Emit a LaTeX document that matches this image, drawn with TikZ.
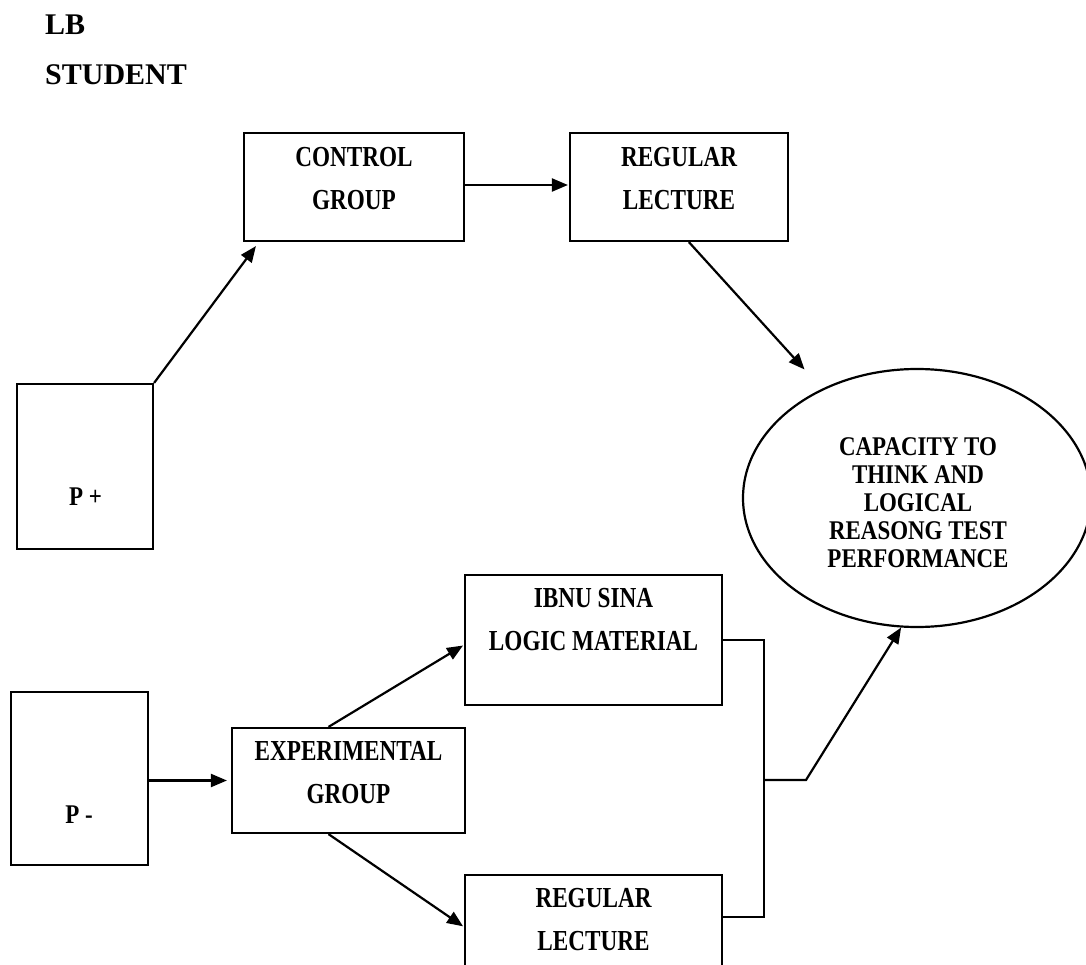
\documentclass[tikz,border=0pt]{standalone}
\usepackage{fontspec}
\setmainfont{Liberation Serif}
\newfontfamily\condfont[FakeStretch=0.8]{Liberation Serif}
\newfontfamily\econdfont[FakeStretch=0.85]{Liberation Serif}
\usetikzlibrary{shapes.geometric,arrows.meta,calc}
\begin{document}
\begin{tikzpicture}[x=1pt,y=-1pt,
  box/.style={draw, rectangle, line width=2.2pt, inner sep=0pt},
  btext/.style={font=\condfont\bfseries\fontsize{29}{43}\selectfont, align=center, inner sep=0pt},
  etext/.style={font=\econdfont\bfseries\fontsize{27}{28}\selectfont, align=center, inner sep=0pt},
  ptext/.style={font=\econdfont\bfseries\fontsize{27}{30}\selectfont, inner sep=0pt},
  title/.style={font=\bfseries\fontsize{30}{36}\selectfont, inner sep=0pt, anchor=base west},
  conn/.style={line width=2.2pt},
  arr/.style={line width=2.2pt, -{Triangle[length=16pt,width=13pt]}}]
\useasboundingbox (0,0) rectangle (1086,965);
\begin{scope}
\clip (0,0) rectangle (1086,965);

% titles
\node[title] (lb) at (45,35) {LB};
\node[title] (student) at (45,85) {STUDENT};

% boxes
\node[box, minimum width=220, minimum height=108] (ctrl) at (354,187) {};
\node[btext] (ctrlt) at (354,178.5) {CONTROL\\GROUP};
\node[box, minimum width=218, minimum height=108] (reg1) at (679,187) {};
\node[btext] (reg1t) at (679,178.5) {REGULAR\\LECTURE};

\node[box, minimum width=136, minimum height=165] (pplus) at (85,466.5) {};
\node[ptext] (pplust) at (85.5,497) {P +};
\node[box, minimum width=137, minimum height=173] (pminus) at (79.5,778.5) {};
\node[ptext] (pminust) at (79,815) {P -};

\node[box, minimum width=233, minimum height=105] (exp) at (348.5,780.5) {};
\node[btext] (expt) at (348.5,773) {EXPERIMENTAL\\GROUP};

\node[box, minimum width=257, minimum height=130] (ibnu) at (593.5,640) {};
\node[btext] (ibnut) at (593.5,619.5) {IBNU SINA\\LOGIC MATERIAL};

\node[box, minimum width=257, minimum height=130] (reg2) at (593.5,940) {};
\node[btext] (reg2t) at (593.5,920) {REGULAR\\LECTURE};

% ellipse
\node[draw, ellipse, line width=2.2pt, minimum width=348, minimum height=258, inner sep=0pt] (cap) at (917,498) {};
\node[etext] (capt) at (918,502.5) {CAPACITY TO\\THINK AND\\LOGICAL\\REASONG TEST\\PERFORMANCE};

% connectors
\draw[arr] (pplus.north east) -- ($(ctrl.south west)+(13,4)$);
\draw[arr, shorten >=1pt] ($(ctrl.east)+(0,-2)$) -- ($(reg1.west)+(0,-2)$);
\draw[arr, shorten >=26pt] ($(reg1.south west)+(120,0)$) -- (cap.131);
\draw[arr, shorten >=4pt] (pminus.east |- exp.west) -- (exp.west);
\draw[arr, shorten >=1pt] ($(exp.north)+(-20,0)$) -- ($(ibnu.west)+(0,5)$);
\draw[arr, shorten >=1pt] ($(exp.south)+(-20,0)$) -- ($(reg2.north west)+(0,53)$);

\coordinate (j) at (764,780);
\coordinate (k) at (806,780);
\draw[conn] (ibnu.east) -| (j);
\draw[conn] ($(reg2.north east)+(0,43)$) -| (j);
\draw[arr] (j) -- (k) -- (cap.263);
\end{scope}
\end{tikzpicture}
\end{document}
